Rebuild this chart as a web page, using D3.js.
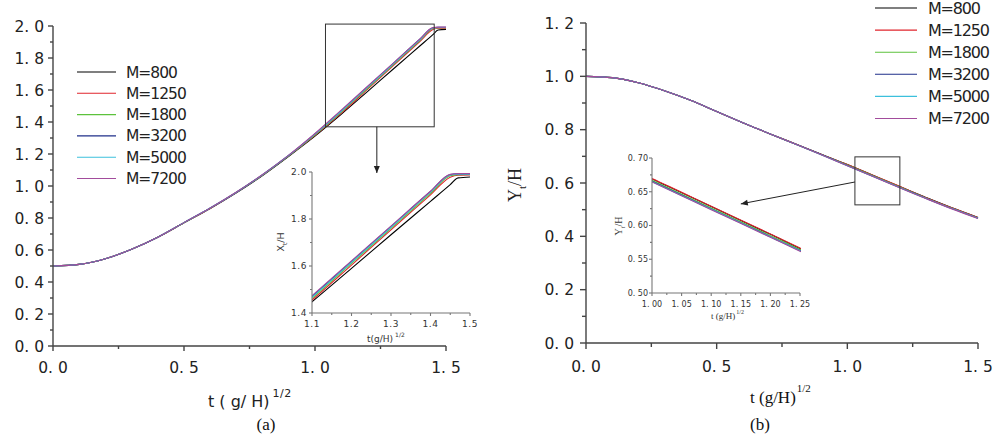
<!DOCTYPE html>
<html><head><meta charset="utf-8">
<script src="https://cdn.jsdelivr.net/npm/d3@7"></script>
<style>body{margin:0;background:#fff}svg{display:block}</style>
</head><body><svg id="c" width="993" height="434"></svg>
<script>
// ---------------- data ----------------
const seriesNames = ["M=800","M=1250","M=1800","M=3200","M=5000","M=7200"];
const seriesColors = ["#000000","#e0242c","#5cc23c","#1f2f8a","#3cc0dc","#a24c9c"];

// (a) front position X/H vs t(g/H)^1/2
const tX = [0,0.1,0.2,0.3,0.4,0.5,0.6,0.7,0.8,0.9,1.0,1.1,1.2,1.3,1.4,1.45,1.47,1.5];
const xM800  = [0.500,0.510,0.545,0.605,0.680,0.770,0.860,0.958,1.066,1.186,1.312,1.448,1.590,1.733,1.875,1.946,1.975,1.979];
const xM1250 = [0.500,0.510,0.545,0.605,0.680,0.770,0.860,0.959,1.068,1.188,1.316,1.455,1.604,1.754,1.903,1.978,1.986,1.987];
const xM1800 = [0.500,0.510,0.545,0.605,0.680,0.770,0.861,0.960,1.069,1.189,1.320,1.462,1.611,1.760,1.909,1.984,1.989,1.990];
const xM3200 = [0.500,0.510,0.545,0.605,0.680,0.771,0.862,0.961,1.071,1.192,1.326,1.470,1.619,1.768,1.917,1.989,1.992,1.992];
const xM5000 = [0.500,0.510,0.545,0.605,0.680,0.771,0.862,0.961,1.070,1.191,1.324,1.467,1.616,1.765,1.914,1.987,1.991,1.991];
const xM7200 = [0.500,0.510,0.545,0.605,0.680,0.771,0.862,0.962,1.072,1.193,1.328,1.474,1.622,1.770,1.918,1.990,1.993,1.993];

// (b) height Y/H vs t(g/H)^1/2
const tY = [0,0.1,0.2,0.3,0.4,0.5,0.6,0.7,0.8,0.9,1.0,1.1,1.2,1.25,1.3,1.4,1.5];
const yM800  = [1.000,0.995,0.976,0.946,0.910,0.868,0.826,0.786,0.747,0.708,0.6690,0.6280,0.5870,0.5660,0.546,0.507,0.471];
const yM1250 = [1.000,0.995,0.976,0.946,0.910,0.868,0.826,0.786,0.747,0.708,0.6695,0.6285,0.5875,0.5665,0.546,0.507,0.471];
const yM1800 = [1.000,0.995,0.976,0.946,0.910,0.868,0.826,0.786,0.746,0.707,0.6670,0.6260,0.5850,0.5645,0.544,0.505,0.469];
const yM3200 = [1.000,0.995,0.976,0.946,0.910,0.868,0.826,0.786,0.746,0.707,0.6655,0.6245,0.5835,0.5630,0.543,0.504,0.468];
const yM5000 = [1.000,0.995,0.976,0.946,0.910,0.868,0.826,0.786,0.746,0.706,0.6650,0.6240,0.5830,0.5625,0.543,0.504,0.468];
const yM7200 = [1.000,0.995,0.976,0.946,0.910,0.868,0.826,0.786,0.746,0.706,0.6645,0.6235,0.5825,0.5620,0.542,0.503,0.467];

const xSeries = [xM800,xM1250,xM1800,xM3200,xM5000,xM7200];
const ySeries = [yM800,yM1250,yM1800,yM3200,yM5000,yM7200];

const aXTicks = [0,0.5,1.0,1.5], aXMinor = [0.25,0.75,1.25];
const aYTicks = [0,0.2,0.4,0.6,0.8,1.0,1.2,1.4,1.6,1.8,2.0], aYMinor = [0.1,0.3,0.5,0.7,0.9,1.1,1.3,1.5,1.7,1.9];
const aiXTicks = [1.1,1.2,1.3,1.4,1.5], aiXMinor = [1.15,1.25,1.35,1.45];
const aiYTicks = [1.4,1.6,1.8,2.0], aiYMinor = [1.5,1.7,1.9];
const bXTicks = [0,0.5,1.0,1.5], bXMinor = [0.25,0.75,1.25];
const bYTicks = [0,0.2,0.4,0.6,0.8,1.0,1.2], bYMinor = [0.1,0.3,0.5,0.7,0.9,1.1];
const biXTicks = [1.00,1.05,1.10,1.15,1.20,1.25], biXMinor = [1.025,1.075,1.125,1.175,1.225];
const biYTicks = [0.50,0.55,0.60,0.65,0.70], biYMinor = [0.525,0.575,0.625,0.675];

// ---------------- drawing ----------------
const svg = d3.select("#c");
const SANS = "DejaVu Sans, Verdana, sans-serif";
const SERIF = "Liberation Serif, Times New Roman, serif";

function axes(g, xs, ys, o){
  const [x0,x1] = xs.range(), [y0,y1] = ys.range();
  const col = o.color, sw = o.sw;
  g.append("line").attr("x1",x0).attr("x2",x0).attr("y1",y0).attr("y2",y1).attr("stroke",col).attr("stroke-width",sw);
  g.append("line").attr("x1",x0).attr("x2",x1).attr("y1",y0).attr("y2",y0).attr("stroke",col).attr("stroke-width",sw);
  o.xt.forEach(v=>{
    g.append("line").attr("x1",xs(v)).attr("x2",xs(v)).attr("y1",y0).attr("y2",y0+o.maj).attr("stroke",col).attr("stroke-width",sw);
    g.append("text").attr("x",xs(v)).attr("y",y0+o.xdy).attr("text-anchor","middle")
      .attr("font-family",o.font).attr("font-size",o.fs).attr("letter-spacing",o.ls).attr("fill",o.tc).text(o.fx(v));
  });
  o.xm.forEach(v=>g.append("line").attr("x1",xs(v)).attr("x2",xs(v)).attr("y1",y0).attr("y2",y0+o.min).attr("stroke",col).attr("stroke-width",sw));
  o.yt.forEach(v=>{
    g.append("line").attr("x1",x0).attr("x2",x0-o.maj).attr("y1",ys(v)).attr("y2",ys(v)).attr("stroke",col).attr("stroke-width",sw);
    g.append("text").attr("x",x0-o.ydx).attr("y",ys(v)).attr("dy","0.36em").attr("text-anchor","end")
      .attr("font-family",o.font).attr("font-size",o.fs).attr("letter-spacing",o.ls).attr("fill",o.tc).text(o.fy(v));
  });
  o.ym.forEach(v=>g.append("line").attr("x1",x0).attr("x2",x0-o.min).attr("y1",ys(v)).attr("y2",ys(v)).attr("stroke",col).attr("stroke-width",sw));
}
const sp = (v,d)=>v.toFixed(d).replace(".",". ");

function drawLines(g, xs, ys, tArr, series, clipId){
  const gg = g.append("g");
  if(clipId) gg.attr("clip-path",`url(#${clipId})`);
  series.forEach((vals,i)=>{
    const pts = tArr.map((t,j)=>[t,vals[j]]);
    gg.append("path").datum(pts)
      .attr("d", d3.line().x(d=>xs(d[0])).y(d=>ys(d[1])).curve(d3.curveMonotoneX))
      .attr("fill","none").attr("stroke",seriesColors[i]).attr("stroke-width",1.1);
  });
}
function clip(id, xs, ys){
  svg.append("clipPath").attr("id",id).append("rect")
    .attr("x",xs.range()[0]).attr("y",ys.range()[1]-2)
    .attr("width",xs.range()[1]-xs.range()[0]+1).attr("height",ys.range()[0]-ys.range()[1]+2);
}
function arrow(g,x1,y1,x2,y2){
  g.append("line").attr("x1",x1).attr("y1",y1).attr("x2",x2).attr("y2",y2).attr("stroke","#222").attr("stroke-width",1);
  const a = Math.atan2(y2-y1,x2-x1), L=7, W=3;
  const p = [[x2,y2],[x2-L*Math.cos(a)+W*Math.sin(a), y2-L*Math.sin(a)-W*Math.cos(a)],[x2-L*Math.cos(a)-W*Math.sin(a), y2-L*Math.sin(a)+W*Math.cos(a)]];
  g.append("path").attr("d","M"+p.join("L")+"Z").attr("fill","#222");
}

// ===== panel (a) =====
const xA = d3.scaleLinear().domain([0,1.5]).range([53,446]);
const yA = d3.scaleLinear().domain([0,2]).range([346,26]);
const gA = svg.append("g");
drawLines(gA, xA, yA, tX, xSeries, null);
axes(gA, xA, yA, {color:"#444",sw:1.4,maj:5,min:3,xt:aXTicks,xm:aXMinor,yt:aYTicks,ym:aYMinor,
  xdy:27,ydx:9,font:SANS,fs:15.5,ls:0,tc:"#222",fx:v=>sp(v,1),fy:v=>sp(v,1)});
// legend (a)
seriesNames.forEach((n,i)=>{
  const y = 72 + i*21.3;
  gA.append("line").attr("x1",77).attr("x2",116).attr("y1",y).attr("y2",y).attr("stroke",seriesColors[i]).attr("stroke-width",1.1);
  gA.append("text").attr("x",126).attr("y",y).attr("dy","0.36em").attr("font-family",SANS).attr("font-size",15.5)
    .attr("letter-spacing",-1).attr("fill","#222").text(n);
});
// x label (a)
const lA = gA.append("text").attr("x",208).attr("y",407).attr("font-family",SANS).attr("font-size",16).attr("fill","#222");
lA.append("tspan").text("t ( g/ H)");
lA.append("tspan").attr("dx",3).attr("dy",-10).attr("font-size",11).attr("letter-spacing",0.5).text("1/2");
gA.append("text").attr("x",266).attr("y",430).attr("text-anchor","middle").attr("font-family",SERIF).attr("font-size",17).attr("fill","#111").text("(a)");
// zoom box (a)
gA.append("rect").attr("x",xA(1.04)).attr("y",yA(2.012)).attr("width",xA(1.455)-xA(1.04)).attr("height",yA(1.37)-yA(2.012))
  .attr("fill","none").attr("stroke","#333").attr("stroke-width",1);
arrow(gA, xA(1.236), yA(1.37), xA(1.236), 173);

// inset (a)
const xAi = d3.scaleLinear().domain([1.1,1.5]).range([312,470]);
const yAi = d3.scaleLinear().domain([1.4,2.0]).range([313,172]);
clip("clipA", xAi, yAi);
drawLines(gA, xAi, yAi, tX, xSeries, "clipA");
axes(gA, xAi, yAi, {color:"#777",sw:1.1,maj:3,min:2,xt:aiXTicks,xm:aiXMinor,yt:aiYTicks,ym:aiYMinor,
  xdy:14,ydx:5,font:SANS,fs:9,ls:0.6,tc:"#333",fx:v=>v.toFixed(1),fy:v=>v.toFixed(1)});
const liA = gA.append("text").attr("x",367).attr("y",342).attr("font-family",SANS).attr("font-size",9).attr("fill","#333");
liA.append("tspan").text("t(g/H)");
liA.append("tspan").attr("dx",2).attr("dy",-5).attr("font-size",6).text("1/2");
const lyA = gA.append("text").attr("transform","translate(284,242) rotate(-90)").attr("text-anchor","middle")
  .attr("font-family",SANS).attr("font-size",9.5).attr("fill","#333");
lyA.append("tspan").text("X");
lyA.append("tspan").attr("dy",3).attr("font-size",6).text("t");
lyA.append("tspan").attr("dy",-3).text("/H");

// ===== panel (b) =====
const xB = d3.scaleLinear().domain([0,1.5]).range([586,978]);
const yB = d3.scaleLinear().domain([0,1.2]).range([343,23]);
const gB = svg.append("g");
drawLines(gB, xB, yB, tY, ySeries, null);
axes(gB, xB, yB, {color:"#444",sw:1.4,maj:6,min:4,xt:bXTicks,xm:bXMinor,yt:bYTicks,ym:bYMinor,
  xdy:29,ydx:12,font:SANS,fs:15.5,ls:0,tc:"#222",fx:v=>sp(v,1),fy:v=>sp(v,1)});
seriesNames.forEach((n,i)=>{
  const y = 8 + i*22.1;
  gB.append("line").attr("x1",875).attr("x2",917).attr("y1",y).attr("y2",y).attr("stroke",seriesColors[i]).attr("stroke-width",1.1);
  gB.append("text").attr("x",928).attr("y",y).attr("dy","0.36em").attr("font-family",SANS).attr("font-size",16)
    .attr("letter-spacing",-1.2).attr("fill","#222").text(n);
});
const lB = gB.append("text").attr("x",750).attr("y",403).attr("font-family",SERIF).attr("font-size",17).attr("fill","#111");
lB.append("tspan").text("t (g/H)");
lB.append("tspan").attr("dx",1).attr("dy",-11).attr("font-size",11).text("1/2");
gB.append("text").attr("x",760).attr("y",430).attr("text-anchor","middle").attr("font-family",SERIF).attr("font-size",17).attr("fill","#111").text("(b)");
const lyB = gB.append("text").attr("transform","translate(521,185) rotate(-90)").attr("text-anchor","middle")
  .attr("font-family",SERIF).attr("font-size",18).attr("fill","#222");
lyB.append("tspan").text("Y");
lyB.append("tspan").attr("dy",5).attr("font-size",11).text("t");
lyB.append("tspan").attr("dy",-5).text("/H");
// zoom box (b)
gB.append("rect").attr("x",xB(1.029)).attr("y",yB(0.698)).attr("width",xB(1.201)-xB(1.029)).attr("height",yB(0.518)-yB(0.698))
  .attr("fill","none").attr("stroke","#333").attr("stroke-width",1);

// inset (b)
const xBi = d3.scaleLinear().domain([1.0,1.25]).range([652,800]);
const yBi = d3.scaleLinear().domain([0.5,0.7]).range([293,158]);
arrow(gB, xB(1.029), 182, xBi(1.15), yBi(0.632));
clip("clipB", xBi, yBi);
drawLines(gB, xBi, yBi, tY, ySeries, "clipB");
axes(gB, xBi, yBi, {color:"#777",sw:1.1,maj:3,min:2,xt:biXTicks,xm:biXMinor,yt:biYTicks,ym:biYMinor,
  xdy:14,ydx:4,font:SANS,fs:8,ls:0,tc:"#333",fx:v=>sp(v,2),fy:v=>sp(v,2)});
const liB = gB.append("text").attr("x",711).attr("y",319).attr("font-family",SERIF).attr("font-size",9).attr("fill","#333");
liB.append("tspan").text("t (g/H)");
liB.append("tspan").attr("dx",1).attr("dy",-5).attr("font-size",6).text("1/2");
const lyBi = gB.append("text").attr("transform","translate(622,226) rotate(-90)").attr("text-anchor","middle")
  .attr("font-family",SERIF).attr("font-size",10).attr("fill","#333");
lyBi.append("tspan").text("Y");
lyBi.append("tspan").attr("dy",3).attr("font-size",6).text("t");
lyBi.append("tspan").attr("dy",-3).text("/H");
</script></body></html>
